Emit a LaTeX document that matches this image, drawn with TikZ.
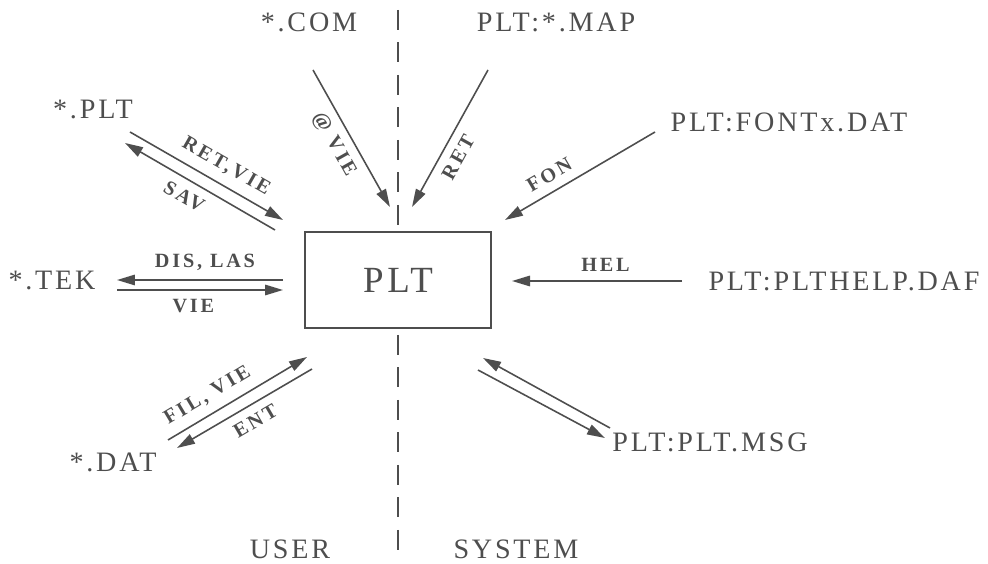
\documentclass[tikz,border=0pt]{standalone}
\usepackage{fontspec}
\setmainfont{Liberation Serif}
\newfontfamily\plotfont[LetterSpace=10]{Liberation Serif}
\newfontfamily\tagfont[LetterSpace=14]{Liberation Serif}
\usetikzlibrary{arrows.meta}

\definecolor{ink}{RGB}{78,78,78}

\begin{document}
\begin{tikzpicture}[
    x=0.02cm, y=-0.02cm,
    >={Triangle[length=3.6mm, width=2.1mm]},
    file/.style  ={font=\plotfont\fontsize{16}{18}\selectfont, text=ink, inner sep=0pt},
    prog/.style  ={draw=ink, line width=0.8pt, fill=white, minimum width=3.72cm,
                   minimum height=1.92cm, text=ink,
                   font=\plotfont\fontsize{21}{24}\selectfont},
    flow/.style  ={->, ink, line width=0.9pt},
    elabel/.style={font=\tagfont\bfseries\fontsize{11.5}{13}\selectfont, text=ink,
                   sloped, inner sep=5pt},
    divide/.style={ink, line width=0.8pt, dash pattern=on 4mm off 2.5mm}
  ]
  \useasboundingbox (0,0) rectangle (988,564);

  % ---- user / system divide --------------------------------------------
  \coordinate (divTop) at (398,10);
  \coordinate (divBot) at (398,562);
  \draw[divide] (divTop) -- (divBot);

  % ---- the program ------------------------------------------------------
  \node[prog] (plt) at (398,280) {PLT};

  % ---- files, user side -------------------------------------------------
  \node[file] (com)  at (309,22)  {*.COM};
  \node[file] (pltf) at (93,109)  {*.PLT};
  \node[file] (tek)  at (52,280)  {*.TEK};
  \node[file] (dat)  at (113,462) {*.DAT};

  % ---- files, system side -----------------------------------------------
  \node[file] (map)  at (556,22)  {PLT:*.MAP};
  \node[file] (font) at (789,122) {PLT:FONTx.DAT};
  \node[file] (help) at (844,281) {PLT:PLTHELP.DAF};
  \node[file] (msg)  at (710,442) {PLT:PLT.MSG};

  \node[file] (user) at (290,549) {USER};
  \node[file] (sys)  at (516,549) {SYSTEM};

  % ---- end points of the connectors -------------------------------------
  \coordinate (comA) at (313,70);   \coordinate (comB) at (390,207);
  \coordinate (mapA) at (488,70);   \coordinate (mapB) at (412,207);
  \coordinate (fonA) at (655,132);  \coordinate (fonB) at (505,220);
  \coordinate (helA) at (682,281);  \coordinate (helB) at (512,281);
  \coordinate (msgA) at (610,428);  \coordinate (msgB) at (483,358);
  \coordinate (msgC) at (478,370);  \coordinate (msgD) at (605,438);
  \coordinate (pltA) at (130,132);  \coordinate (pltB) at (283,220);
  \coordinate (pltC) at (275,230);  \coordinate (pltD) at (125,143);
  \coordinate (tekA) at (283,280);  \coordinate (tekB) at (117,280);
  \coordinate (tekC) at (117,290);  \coordinate (tekD) at (283,290);
  \coordinate (datA) at (168,440);  \coordinate (datB) at (307,357);
  \coordinate (datC) at (312,369);  \coordinate (datD) at (177,448);

  % ---- system -> PLT ----------------------------------------------------
  \draw[flow] (comA) -- node[elabel, below, pos=0.48]{@\hspace{5pt}VIE} (comB);
  \draw[flow] (mapA) -- node[elabel, below, pos=0.58]{RET} (mapB);
  \draw[flow] (fonA) -- node[elabel, above, pos=0.65]{FON} (fonB);
  \draw[flow] (helA) -- node[elabel, above, pos=0.45]{HEL} (helB);
  \draw[flow] (msgA) -- (msgB);
  \draw[flow] (msgC) -- (msgD);

  % ---- user <-> PLT -----------------------------------------------------
  \draw[flow] (pltA) -- node[elabel, above, pos=0.57]{RET,VIE} (pltB);
  \draw[flow] (pltC) -- node[elabel, below, pos=0.55]{SAV} (pltD);
  \draw[flow] (tekA) -- node[elabel, above, pos=0.47]{DIS, LAS} (tekB);
  \draw[flow] (tekC) -- node[elabel, below, pos=0.46]{VIE} (tekD);
  \draw[flow] (datA) -- node[elabel, above, pos=0.35]{FIL, VIE} (datB);
  \draw[flow] (datC) -- node[elabel, below, pos=0.48]{ENT} (datD);

\end{tikzpicture}
\end{document}
